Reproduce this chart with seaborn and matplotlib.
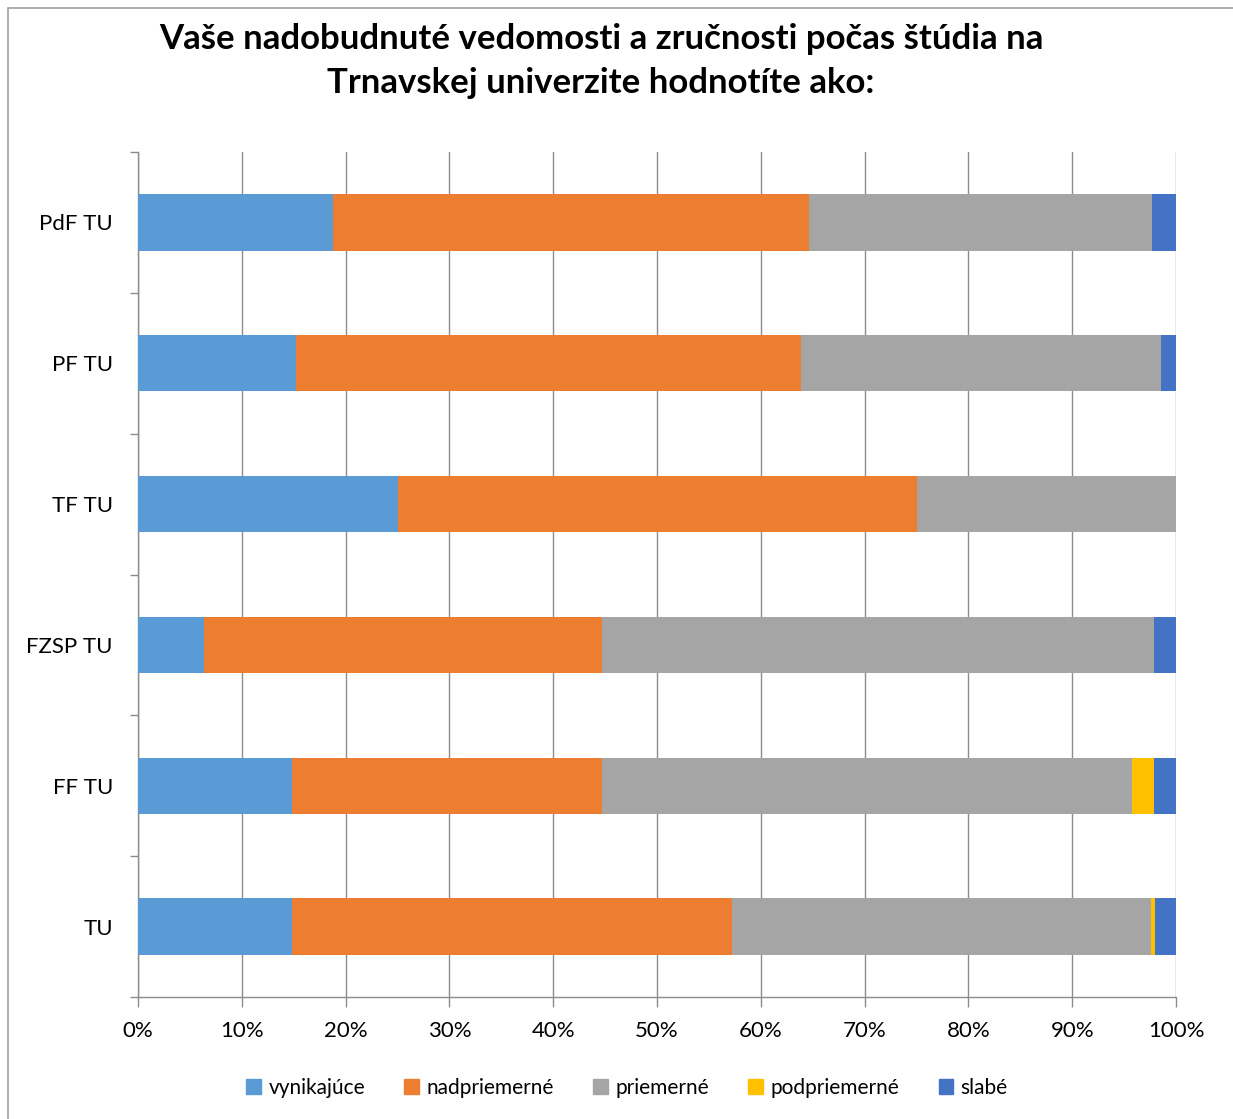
import matplotlib
matplotlib.use("Agg")
import matplotlib.pyplot as plt
import seaborn as sns
import pandas as pd
import numpy as np
from matplotlib.patches import Rectangle
from matplotlib.ticker import FixedLocator, PercentFormatter

categories = ["PdF TU", "PF TU", "TF TU", "FZSP TU", "FF TU", "TU"]
series_names = ["vynikajúce", "nadpriemerné", "priemerné", "podpriemerné", "slabé"]
vynikajuce = [18.8, 15.2, 25.0, 6.4, 14.8, 14.8]
nadpriemerne = [45.8, 48.7, 50.0, 38.3, 29.9, 42.4]
priemerne = [33.1, 34.7, 25.0, 53.2, 51.1, 40.4]
podpriemerne = [0.0, 0.0, 0.0, 0.0, 2.1, 0.4]
slabe = [2.3, 1.4, 0.0, 2.1, 2.1, 2.0]
colors = ["#5B9BD5", "#ED7D31", "#A5A5A5", "#FFC000", "#4472C4"]
title = "Vaše nadobudnuté vedomosti a zručnosti počas štúdia na\nTrnavskej univerzite hodnotíte ako:"

sns.set_theme(style="white")
plt.rcParams["font.family"] = ["Lato", "DejaVu Sans"]
plt.rcParams["text.color"] = "black"

values = np.array([vynikajuce, nadpriemerne, priemerne, podpriemerne, slabe])
cum = np.cumsum(values, axis=0)

fig = plt.figure(figsize=(12.33, 11.19), dpi=100)
ax = fig.add_axes([138/1233, 1-997/1119, (1176-138)/1233, (997-152)/1119])

# draw from the longest cumulative layer to the shortest so they stack
for i in range(len(series_names) - 1, -1, -1):
    df = pd.DataFrame({"cat": categories, "val": cum[i]})
    sns.barplot(data=df, x="val", y="cat", orient="h", color=colors[i],
                width=0.4, ax=ax, saturation=1, legend=False,
                edgecolor="none", linewidth=0, zorder=3)

ax.set_xlim(0, 100)
ax.set_ylim(len(categories) - 0.5, -0.5)
ax.xaxis.set_major_locator(FixedLocator(np.arange(0, 101, 10)))
ax.xaxis.set_major_formatter(PercentFormatter(decimals=0))
ax.grid(axis="x", color="#8C8C8C", linewidth=1.0, zorder=0)
ax.grid(axis="y", visible=False)
ax.set_axisbelow(True)
ax.set_xlabel("")
ax.set_ylabel("")
for s in ["top", "right"]:
    ax.spines[s].set_visible(False)
for s in ["left", "bottom"]:
    ax.spines[s].set_color("#8C8C8C")
    ax.spines[s].set_linewidth(1.0)

ax.tick_params(axis="x", which="major", bottom=True, length=7, width=1,
               color="#8C8C8C", labelsize=16, pad=10, labelcolor="black")
ax.tick_params(axis="y", which="major", left=False, labelsize=16, pad=12,
               labelcolor="black")
for lbl in ax.get_yticklabels():
    lbl.set_horizontalalignment("right")
ax.yaxis.set_minor_locator(FixedLocator(np.arange(-0.5, len(categories), 1.0)))
ax.tick_params(axis="y", which="minor", left=True, length=6, width=1, color="#8C8C8C")

# legend
handles = [Rectangle((0, 0), 1, 1, color=c) for c in colors]
fig.legend(handles, series_names, loc="center", bbox_to_anchor=(627/1233, 1-1088/1119),
           ncol=5, frameon=False, fontsize=15, handlelength=0.7, handleheight=0.7,
           handletextpad=0.35, columnspacing=1.9)

fig.text(601/1233, 1-61/1119, title, ha="center", va="center", fontsize=25,
         fontweight="bold", linespacing=1.45, color="black")

fig.patches.append(Rectangle((8/1233, -0.01), 1.02, 1-8/1119 + 0.01, transform=fig.transFigure,
                             fill=False, edgecolor="#A0A0A0", linewidth=1.2))

fig.savefig("out.png", dpi=100)
